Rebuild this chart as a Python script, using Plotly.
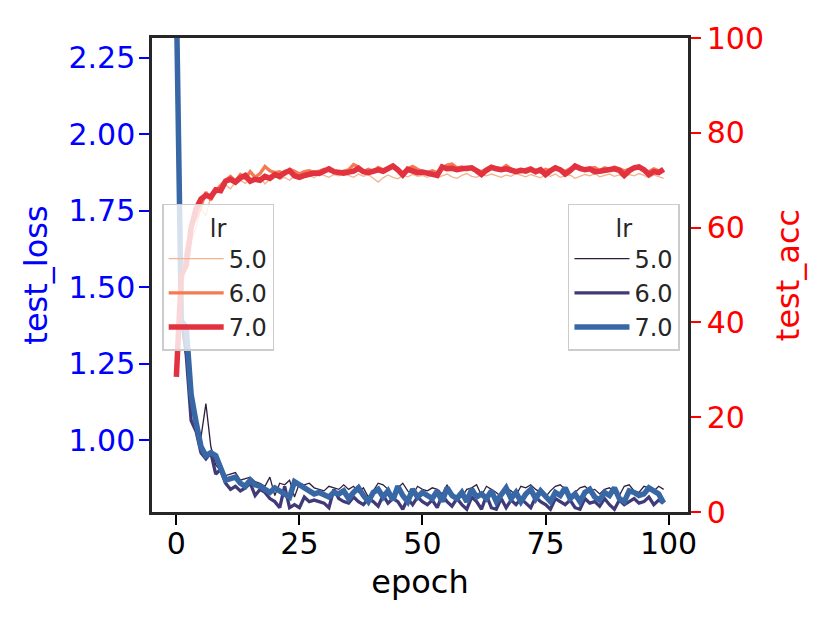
import plotly.graph_objects as go

# epochs and learning rates
epochs = list(range(100))
lr_labels = ["5.0", "6.0", "7.0"]

# test loss per lr
loss_5 = [2.55, 1.41, 1.33, 1.10, 1.06, 1.01, 1.12, 0.98, 0.92, 0.90,
          0.885, 0.89, 0.895, 0.87, 0.875, 0.88, 0.865, 0.86, 0.85, 0.88,
          0.82, 0.86, 0.855, 0.87, 0.815, 0.86, 0.855, 0.86, 0.845, 0.84,
          0.835, 0.85, 0.845, 0.84, 0.855, 0.84, 0.85, 0.83, 0.845, 0.815,
          0.835, 0.86, 0.855, 0.84, 0.815, 0.845, 0.86, 0.835, 0.82, 0.85,
          0.84, 0.835, 0.845, 0.84, 0.825, 0.855, 0.82, 0.815, 0.815, 0.84,
          0.845, 0.855, 0.82, 0.85, 0.84, 0.83, 0.815, 0.845, 0.835, 0.82,
          0.85, 0.845, 0.855, 0.84, 0.83, 0.815, 0.835, 0.85, 0.855, 0.84,
          0.82, 0.83, 0.845, 0.85, 0.835, 0.84, 0.825, 0.84, 0.845, 0.83,
          0.82, 0.85, 0.855, 0.835, 0.83, 0.85, 0.845, 0.835, 0.85, 0.84]
loss_6 = [2.50, 1.40, 1.28, 1.065, 1.03, 0.96, 0.94, 0.96, 0.89, 0.905,
          0.86, 0.84, 0.85, 0.835, 0.845, 0.86, 0.82, 0.84, 0.83, 0.81,
          0.80, 0.78, 0.85, 0.78, 0.79, 0.78, 0.815, 0.80, 0.805, 0.80,
          0.795, 0.78, 0.84, 0.81, 0.80, 0.795, 0.815, 0.80, 0.79, 0.81,
          0.80, 0.785, 0.82, 0.795, 0.81, 0.80, 0.775, 0.81, 0.79, 0.815,
          0.80, 0.79, 0.805, 0.78, 0.82, 0.80, 0.785, 0.81, 0.79, 0.775,
          0.815, 0.80, 0.775, 0.82, 0.78, 0.775, 0.81, 0.78, 0.805, 0.79,
          0.81, 0.795, 0.78, 0.815, 0.80, 0.79, 0.775, 0.81, 0.80, 0.79,
          0.805, 0.78, 0.775, 0.81, 0.795, 0.80, 0.785, 0.81, 0.79, 0.775,
          0.805, 0.79, 0.80, 0.81, 0.795, 0.80, 0.815, 0.79, 0.805, 0.795]
loss_7 = [2.45, 1.39, 1.37, 1.15, 1.06, 0.98, 0.95, 0.96, 0.95, 0.91,
          0.87, 0.875, 0.88, 0.86, 0.85, 0.87, 0.855, 0.85, 0.84, 0.83,
          0.845, 0.835, 0.83, 0.815, 0.865, 0.855, 0.84, 0.83, 0.825, 0.83,
          0.82, 0.815, 0.83, 0.825, 0.835, 0.81, 0.83, 0.845, 0.82, 0.80,
          0.83, 0.84, 0.815, 0.835, 0.805, 0.85, 0.82, 0.80, 0.84, 0.815,
          0.83, 0.82, 0.81, 0.835, 0.80, 0.845, 0.82, 0.81, 0.83, 0.80,
          0.84, 0.815, 0.825, 0.81, 0.835, 0.80, 0.82, 0.845, 0.81, 0.83,
          0.80, 0.825, 0.84, 0.81, 0.835, 0.815, 0.80, 0.83, 0.82, 0.845,
          0.81, 0.825, 0.80, 0.83, 0.84, 0.815, 0.805, 0.83, 0.82, 0.845,
          0.81, 0.80, 0.835, 0.83, 0.82, 0.825, 0.845, 0.835, 0.825, 0.795]

# test accuracy per lr
acc_5 = [31.0, 46.0, 53.0, 57.0, 60.0, 64.0, 62.5, 66.5, 67.2, 67.8,
         69.0, 68.2, 69.6, 70.0, 69.3, 70.4, 69.8, 70.6, 69.2, 70.3,
         70.8, 70.2, 70.6, 70.0, 70.9, 71.2, 70.7, 71.0, 70.5, 71.3,
         71.0, 70.6, 71.2, 70.9, 71.4, 71.0, 70.6, 71.3, 70.8, 71.2,
         70.4, 69.6, 70.5, 71.1, 70.6, 70.3, 71.0, 70.7, 71.2, 70.8,
         71.0, 70.6, 71.1, 70.5, 70.9, 71.3, 70.7, 70.4, 71.0, 71.4,
         70.8, 70.6, 71.2, 70.9, 71.3, 71.0, 70.6, 71.1, 70.8, 71.4,
         71.0, 70.7, 71.2, 70.9, 70.5, 71.2, 70.8, 71.3, 70.6, 70.9,
         71.1, 70.4, 70.8, 71.2, 70.9, 71.4, 70.7, 71.0, 71.3, 70.8,
         71.1, 70.6, 71.2, 70.9, 71.4, 71.0, 70.5, 71.1, 70.8, 70.4]
acc_6 = [30.0, 48.0, 55.0, 60.0, 62.0, 64.5, 67.5, 65.8, 67.8, 69.0,
         70.0, 70.8, 69.8, 71.2, 70.4, 71.8, 70.6, 71.4, 72.9, 72.0,
         71.6, 71.8, 71.2, 72.3, 71.9, 71.3, 71.8, 72.0, 71.6, 71.9,
         72.3, 72.0, 71.7, 71.5, 71.9, 72.2, 73.3, 72.8, 71.8, 72.3,
         71.9, 72.7, 72.2, 72.5, 72.8, 72.0, 71.6, 72.4, 72.9, 72.3,
         71.8, 71.6, 72.0, 71.6, 72.5, 73.2, 73.4, 72.6, 72.8, 72.2,
         72.5, 72.1, 71.8, 72.4, 73.0, 72.6, 72.3, 73.1, 72.4, 72.0,
         71.8, 72.3, 72.6, 72.0, 71.7, 72.3, 72.0, 72.8, 72.3, 71.9,
         72.4, 72.9, 72.6, 72.1, 72.5, 72.7, 72.0, 72.6, 72.3, 72.8,
         72.4, 72.0, 72.3, 72.7, 72.9, 72.1, 71.8, 72.4, 72.0, 71.8]
acc_7 = [28.5, 50.0, 52.0, 60.0, 64.0, 66.0, 66.8, 66.5, 68.0, 67.8,
         69.8, 70.2, 69.6, 70.5, 71.0, 69.8, 70.2, 70.0, 70.8, 70.4,
         71.2, 70.8, 71.6, 72.0, 70.9, 70.6, 71.0, 71.2, 71.5, 71.4,
         71.9, 72.4, 71.8, 71.6, 71.5, 71.7, 71.9, 72.5, 71.8, 71.6,
         72.0, 72.2, 71.9, 72.6, 73.0, 72.2, 71.1, 72.3, 71.9, 71.6,
         71.7, 71.4, 71.2, 71.0, 72.8, 72.4, 72.5, 72.2, 72.4, 72.5,
         72.6, 72.0, 71.2, 72.1, 72.7, 72.4, 72.2, 72.4, 72.0, 71.8,
         72.1, 71.9, 72.3, 71.8, 72.2, 71.2, 72.0, 72.6, 72.2, 71.3,
         72.0, 73.0, 72.5, 72.2, 72.4, 71.8, 71.9, 72.0, 72.2, 72.4,
         72.1, 71.0, 72.0, 72.6, 72.8, 72.2, 71.2, 71.8, 71.6, 72.3]

loss_series = [loss_5, loss_6, loss_7]
acc_series = [acc_5, acc_6, acc_7]
loss_colors = ["#2d1f3f", "#403b78", "#3867a6"]
acc_colors = ["#f6b28d", "#f37a51", "#e2323f"]
widths = [1.3, 3.3, 5.5]

font = "DejaVu Sans"
fig = go.Figure()

# loss lines on the left axis, legend on the right
for lab, vals, col, w in zip(lr_labels, loss_series, loss_colors, widths):
    fig.add_trace(go.Scatter(x=epochs, y=vals, mode="lines", name=lab,
                             line=dict(color=col, width=w), legend="legend2",
                             yaxis="y"))

# accuracy lines on the right axis, legend on the left
for lab, vals, col, w in zip(lr_labels, acc_series, acc_colors, widths):
    fig.add_trace(go.Scatter(x=epochs, y=vals, mode="lines", name=lab,
                             line=dict(color=col, width=w), legend="legend",
                             yaxis="y2"))

legend_style = dict(
    title=dict(text="lr", side="top center", font=dict(size=24, color="#262626")),
    font=dict(family=font, size=24, color="#262626"),
    bgcolor="rgba(255,255,255,0.8)",
    bordercolor="#cccccc",
    borderwidth=1.5,
    itemwidth=55,
    yanchor="top",
    y=0.65,
)

# page has an 8px body margin, so the figure is a bit smaller than the window
fig.update_layout(
    width=822,
    height=615,
    margin=dict(l=144, r=142, t=27, b=111),
    plot_bgcolor="white",
    paper_bgcolor="white",
    font=dict(family=font, size=30, color="black"),
    showlegend=True,
    legend=dict(legend_style, x=0.019, xanchor="left"),
    legend2=dict(legend_style, x=0.985, xanchor="right"),
    xaxis=dict(
        range=[-4.95, 103.95],
        tickvals=[0, 25, 50, 75, 100],
        ticks="outside", ticklen=10, tickwidth=2, tickcolor="black",
        ticklabelstandoff=-7,
        showgrid=False, zeroline=False,
        showline=True, linecolor="#262626", linewidth=2.5, mirror=True,
        title=dict(text="epoch", font=dict(size=32), standoff=11),
    ),
    yaxis=dict(
        range=[0.766, 2.315],
        tickvals=[1.0, 1.25, 1.5, 1.75, 2.0, 2.25],
        tickformat=".2f",
        ticks="outside", ticklen=10, tickwidth=2, tickcolor="blue",
        ticklabelstandoff=-2,
        tickfont=dict(color="blue"),
        showgrid=False, zeroline=False,
        showline=True, linecolor="#262626", linewidth=2.5,
        title=dict(text="test_loss", font=dict(size=32, color="blue"), standoff=12),
    ),
    yaxis2=dict(
        range=[0, 100],
        tickvals=[0, 20, 40, 60, 80, 100],
        overlaying="y", side="right",
        ticks="outside", ticklen=10, tickwidth=2, tickcolor="red",
        ticklabelstandoff=0,
        tickfont=dict(color="red"),
        showgrid=False, zeroline=False,
        showline=True, linecolor="#262626", linewidth=2.5,
        title=dict(text="test_acc", font=dict(size=32, color="red"), standoff=14),
    ),
)

fig.write_html("out.html")
